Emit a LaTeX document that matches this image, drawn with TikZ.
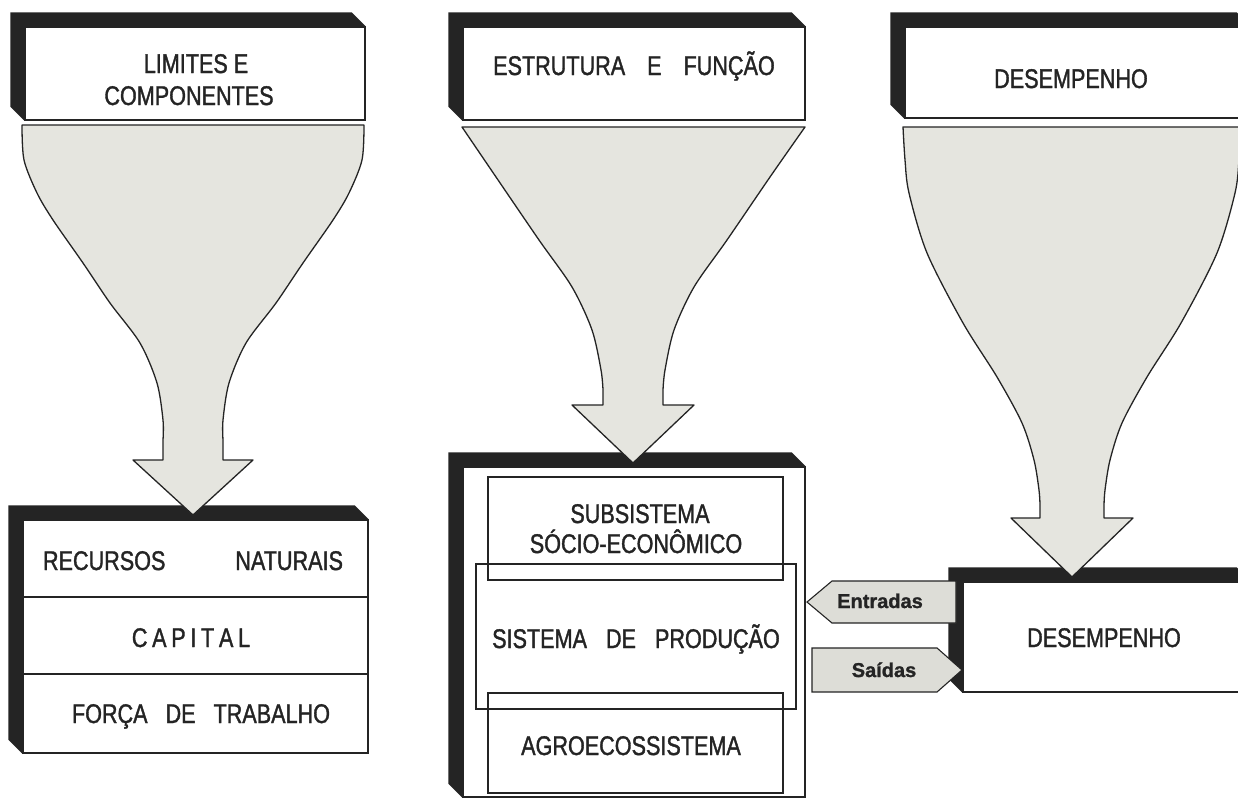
\documentclass[tikz,border=0pt]{standalone}
\usepackage{fontspec}
\setmainfont{Liberation Sans}
\newfontfamily\lbl[FakeStretch=0.8,FakeBold=1.3]{Liberation Sans}
\newfontfamily\tagf[FakeBold=1.2]{Liberation Sans Bold}
\definecolor{ink}{RGB}{36,36,36}
\definecolor{funnelfill}{RGB}{229,229,223}
\definecolor{tagfill}{RGB}{221,221,215}
\newcommand{\slab}[3]{\fill[ink] (#1) -- ++(-14,-14) |- ([shift={(-14,-14)}]#2) -- (#2) -- (#3) -- cycle;}
\begin{document}
\begin{tikzpicture}[x=1pt,y=-1pt,
  front/.style={draw=ink, line width=1.3pt, fill=white, inner sep=0pt},
  inbox/.style={draw=ink, line width=1.2pt, inner sep=0pt},
  txt/.style={font=\lbl\fontsize{27}{32}\selectfont, text=ink, inner sep=0pt, anchor=base},
  funnel/.style={draw=ink, line width=1.3pt, fill=funnelfill, line join=round},
  tagshape/.style={draw=ink, line width=1.1pt, fill=tagfill},
  tagtext/.style={font=\tagf\fontsize{20}{22}\selectfont, text=ink, inner sep=0pt, anchor=base}]

\useasboundingbox (0,0) rectangle (1238,801);

% ---------- header boxes ----------
\node[front, minimum width=340, minimum height=93] (h1) at (195,73.5) {};
\slab{h1.south west}{h1.north east}{h1.north west}
\node[front, minimum width=342, minimum height=93] (h2) at (634,73.5) {};
\slab{h2.south west}{h2.north east}{h2.north west}
\node[front, minimum width=345, minimum height=91] (h3) at (1077.5,72.5) {};
\slab{h3.south west}{h3.north east}{h3.north west}

\node[txt] (t1a) at (196,73) {LIMITES E};
\node[txt] (t1b) at (189,105) {COMPONENTES};
\node[txt] (t2) at (634,75) {ESTRUTURA\hspace{22pt}E\hspace{22pt}FUNÇÃO};
\node[txt] (t3) at (1071,88) {DESEMPENHO};

% ---------- lower left box ----------
\node[front, minimum width=345, minimum height=77] (r1) at (195.5,558.5) {};
\node[front, minimum width=345, minimum height=77] (r2) at (195.5,635.5) {};
\node[front, minimum width=345, minimum height=79] (r3) at (195.5,713.5) {};
\slab{r3.south west}{r1.north east}{r1.north west}
\node[txt] (r1t) at (193,570) {\makebox[300pt]{RECURSOS\hfill NATURAIS}};
\node[txt] (r2t) at (191,647) {C\hspace{4.7pt}A\hspace{4.7pt}P\hspace{4.7pt}I\hspace{4.7pt}T\hspace{4.7pt}A\hspace{4.7pt}L};
\node[txt] (r3t) at (201,723) {FORÇA\hspace{18pt}DE\hspace{18pt}TRABALHO};

% ---------- middle system box ----------
\node[front, minimum width=342, minimum height=330] (s) at (634,632) {};
\slab{s.south west}{s.north east}{s.north west}
\node[inbox, minimum width=295, minimum height=103] (sub) at (635.5,528.5) {};
\node[inbox, minimum width=320, minimum height=145] (prod) at (636,636.5) {};
\node[inbox, minimum width=295, minimum height=100] (agro) at (635.5,743) {};
\node[txt] (subt1) at (640,523) {SUBSISTEMA};
\node[txt] (subt2) at (636,553) {SÓCIO-ECONÔMICO};
\node[txt] (prodt) at (636,648) {SISTEMA\hspace{19pt}DE\hspace{19pt}PRODUÇÃO};
\node[txt] (agrot) at (631,755) {AGROECOSSISTEMA};

% ---------- right performance box ----------
\node[front, minimum width=287, minimum height=110] (d) at (1106.5,637) {};
\slab{d.south west}{d.north east}{d.north west}
\node[txt] (dt) at (1104,647) {DESEMPENHO};

% ---------- funnels ----------
\draw[funnel] (22,125) -- (364,125)
  -- plot[smooth] coordinates {(364,125) (362,160) (349,193) (333,220) (303,263) (276,303) (246,343) (229,383) (223,420) (223,440)}
  -- (223,460) -- (253,460) -- (193,515) -- (133,460) -- (163,460) -- (163,440)
  -- plot[smooth] coordinates {(163,440) (163,420) (157,383) (140,343) (110,303) (83,263) (53,220) (37,193) (24,160) (22,125)}
  -- cycle;

\draw[funnel] (462,127) -- (805,127)
  -- plot[smooth] coordinates {(805,127) (770,177) (727,240) (694,287) (674,330) (665,370) (663,390)}
  -- (663,405) -- (694,405) -- (633,463) -- (572,405) -- (603,405) -- (603,390)
  -- plot[smooth] coordinates {(603,390) (601,370) (592,330) (572,287) (539,240) (496,177) (462,127)}
  -- cycle;

\draw[funnel] (903,127) -- (1241,127)
  -- plot[smooth] coordinates {(1241,127) (1239,160) (1235,193) (1217,253) (1181,323) (1147,377) (1122,423) (1110,460) (1105,490) (1104,505)}
  -- (1104,518) -- (1133,518) -- (1072,577) -- (1011,518) -- (1040,518) -- (1040,505)
  -- plot[smooth] coordinates {(1040,505) (1039,490) (1034,460) (1022,423) (997,377) (963,323) (927,253) (909,193) (905,160) (903,127)}
  -- cycle;

% ---------- input / output tags ----------
\draw[tagshape] (807,602) -- (832,581) -- (956,581) -- (956,623) -- (832,623) -- cycle;
\node[tagtext] (ent) at (880,608) {Entradas};
\draw[tagshape] (812,648) -- (937,648) -- (962,670) -- (937,692) -- (812,692) -- cycle;
\node[tagtext] (sai) at (884,677) {Saídas};
\end{tikzpicture}
\end{document}
